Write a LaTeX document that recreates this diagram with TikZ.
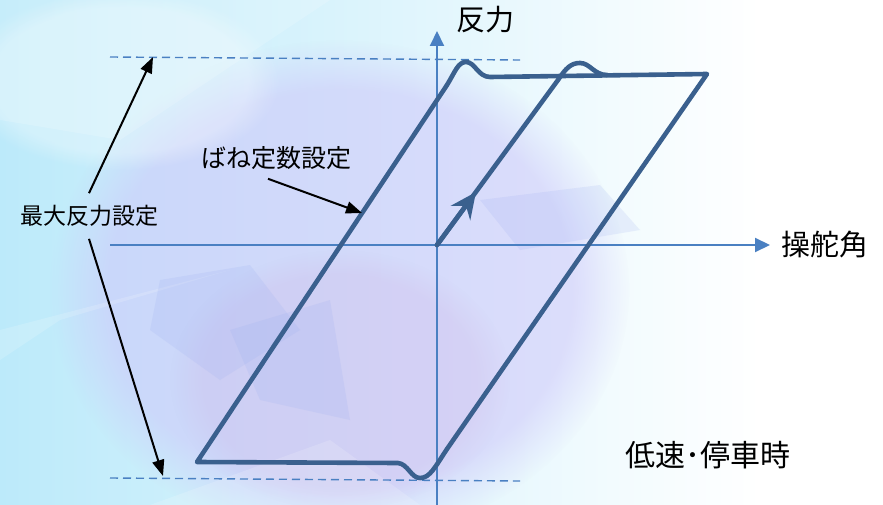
\documentclass[tikz,border=0pt]{standalone}
\usepackage{fontspec}
\setmainfont{Noto Sans CJK JP}
\usetikzlibrary{arrows.meta,fadings}
\definecolor{axisblue}{RGB}{74,128,194}
\definecolor{loopblue}{RGB}{58,96,142}
\definecolor{bgcyan}{RGB}{188,234,250}
\definecolor{bglav}{RGB}{205,198,250}
\definecolor{bgblue}{RGB}{150,170,240}
\begin{document}
\begin{tikzpicture}[
      x=1pt, y=-1pt,
      axis/.style={draw=axisblue, line width=2pt, -{Triangle[length=15pt,width=14pt]}},
      dashline/.style={draw=axisblue, line width=1.4pt, dash pattern=on 8pt off 5pt},
      curve/.style={draw=loopblue, line width=4.6pt, line join=round, line cap=round},
      pointer/.style={draw=black, line width=2pt, -{Triangle[length=16pt,width=12pt]}},
      caption/.style={inner sep=0pt, text=black, font=\fontsize{29}{33}\selectfont},
      smallcap/.style={caption, font=\fontsize{23}{27}\selectfont},
      shard/.style={fill=#1, draw=none, opacity=0.16},
      blob/.style={fill=#1, path fading=circle with fuzzy edge 20 percent}
      ]
  \useasboundingbox (0,0) rectangle (883,505);
  \fill[white] (0,0) rectangle (883,505);
  \shade[left color=bgcyan, right color=white] (0,0) rectangle (760,505);
  \fill[blob=bglav, opacity=0.55] (340,290) ellipse (290 and 250);
  \fill[blob=bglav!85!purple, opacity=0.2] (340,380) ellipse (170 and 130);
  \fill[blob=white, opacity=0.3] (120,80) ellipse (160 and 90);
  \fill[shard=white] (0,0) -- (330,0) -- (120,140) -- (0,120) -- cycle;
  \fill[shard=white] (0,330) -- (230,270) -- (60,320) -- (0,360) -- cycle;
  \fill[shard=bgblue] (160,280) -- (250,265) -- (300,330) -- (220,380) -- (150,330) -- cycle;
  \fill[shard=bgblue] (230,330) -- (330,300) -- (350,420) -- (260,400) -- cycle;
  \fill[shard=bgblue] (480,200) -- (600,185) -- (640,230) -- (520,250) -- cycle;
  \fill[shard=white] (150,505) -- (330,440) -- (420,505) -- cycle;

  \draw[dashline] (110,57) -- (520,60);
  \draw[dashline] (110,478) -- (520,481);

  \coordinate (xs) at (110,245);
  \coordinate (xe) at (770,245);
  \coordinate (ys) at (437,505);
  \coordinate (ye) at (437,31);
  \coordinate (o) at (437,245);
  \draw[axis] (xs) -- (xe);
  \draw[axis] (ys) -- (ye);

  \draw[curve] (197,462) -- (447,85) .. controls (455,72) and (458,62) .. (466,62)
    .. controls (475,62) and (478,77) .. (490,77) -- (707,74) -- (447,449)
    .. controls (435,467) and (430,478) .. (420,478)
    .. controls (411,478) and (408,464) .. (398,463) -- cycle;
  \draw[curve] (o) -- (558,80) .. controls (566,68) and (571,63) .. (580,63)
    .. controls (590,63) and (594,75) .. (607,75);
  \coordinate (mid) at (476,192);
  \draw[curve, -{Stealth[length=26pt,width=24pt,inset=9pt]}] (o) -- (mid);

  \node[caption] (force) at (485,20) {反力};
  \node[caption] (steer) at (825,245) {操舵角};
  \node[caption, font=\fontsize{30}{34}\selectfont] (slow) at (708,455) {低速･停車時};
  \node[smallcap] (maxf) at (89,216) {最大反力設定};
  \node[smallcap, font=\fontsize{25}{29}\selectfont] (spring) at (276,158) {ばね定数設定};

  \coordinate (top) at (153,57);
  \coordinate (bot) at (163,476);
  \coordinate (slope) at (362,213);
  \draw[pointer] ([yshift=12pt]maxf.north) -- (top);
  \draw[pointer] ([yshift=-12pt]maxf.south) -- (bot);
  \draw[pointer] ([xshift=-8pt,yshift=-9pt]spring.south) -- (slope);
\end{tikzpicture}
\end{document}
